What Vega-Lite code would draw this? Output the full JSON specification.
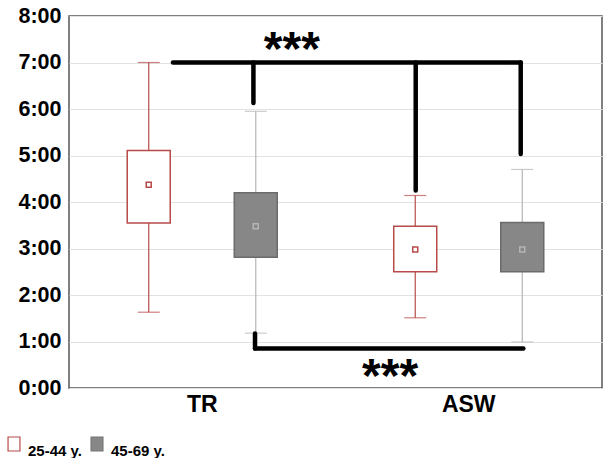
{
  "$schema": "https://vega.github.io/schema/vega-lite/v6.json",
  "width": 533,
  "height": 372,
  "autosize": {"type": "none"},
  "padding": {"left": 69, "top": 16, "right": 3, "bottom": 70},
  "background": "white",
  "config": {
    "font": "Liberation Sans",
    "view": {"stroke": "#555555", "strokeWidth": 1.5}
  },
  "datasets": {
    "boxes": [
      {"group": "TR", "age": "25-44 y.", "low": 1.63, "q1": 3.55, "mean": 4.37, "q3": 5.11, "high": 7.0},
      {"group": "TR", "age": "45-69 y.", "low": 1.18, "q1": 2.81, "mean": 3.48, "q3": 4.2, "high": 5.95},
      {"group": "ASW", "age": "25-44 y.", "low": 1.51, "q1": 2.5, "mean": 2.98, "q3": 3.48, "high": 4.14},
      {"group": "ASW", "age": "45-69 y.", "low": 0.99, "q1": 2.5, "mean": 2.98, "q3": 3.56, "high": 4.7}
    ],
    "brackets": [
      {"x": 0.39, "x2": 1.695, "y": 7, "y2": 7},
      {"x": 0.692, "x2": 0.692, "y": 7, "y2": 6.13},
      {"x": 1.301, "x2": 1.301, "y": 7, "y2": 4.25},
      {"x": 1.695, "x2": 1.695, "y": 7, "y2": 5.03},
      {"x": 0.698, "x2": 0.698, "y": 1.17, "y2": 0.847},
      {"x": 0.698, "x2": 1.705, "y": 0.847, "y2": 0.847}
    ],
    "stars": [
      {"x": 0.836, "y": 7.25, "label": "***"},
      {"x": 1.205, "y": 0.22, "label": "***"}
    ]
  },
  "layer": [
    {
      "data": {"name": "boxes"},
      "encoding": {
        "x": {
          "field": "group",
          "type": "nominal",
          "scale": {"domain": ["TR", "ASW"], "paddingInner": 0, "paddingOuter": 0},
          "axis": {
            "title": null,
            "labelAngle": 0,
            "labelFontSize": 23,
            "labelFontWeight": "bold",
            "labelColor": "#000000",
            "labelPadding": 5,
            "ticks": false,
            "domain": false,
            "grid": false
          }
        },
        "xOffset": {
          "field": "age",
          "type": "nominal",
          "scale": {"domain": ["25-44 y.", "45-69 y."], "paddingInner": 0, "paddingOuter": 0.245}
        }
      },
      "layer": [
        {
          "mark": {"type": "rule", "strokeWidth": 1.2},
          "encoding": {
            "y": {
              "field": "low",
              "type": "quantitative",
              "title": null,
              "scale": {"domain": [0, 8], "nice": false, "zero": true},
              "axis": {
                "values": [0, 1, 2, 3, 4, 5, 6, 7, 8],
                "labelExpr": "datum.value + ':00'",
                "labelFontSize": 21.5,
                "labelFontWeight": "bold",
                "labelColor": "#000000",
                "labelPadding": 8,
                "ticks": false,
                "domain": false,
                "grid": true,
                "gridColor": "#e2e2e2",
                "gridWidth": 1
              }
            },
            "y2": {"field": "high"},
            "color": {
              "field": "age",
              "type": "nominal",
              "scale": {"range": ["#b84a4a", "#b5b5b5"]},
              "legend": null
            }
          }
        },
        {
          "transform": [{"fold": ["low", "high"], "as": ["end", "val"]}],
          "mark": {"type": "tick", "size": 22, "thickness": 1.2},
          "encoding": {
            "y": {"field": "val", "type": "quantitative", "title": null},
            "color": {
              "field": "age",
              "type": "nominal",
              "scale": {"range": ["#b84a4a", "#b5b5b5"]},
              "legend": null
            }
          }
        },
        {
          "mark": {"type": "bar", "size": 43, "strokeWidth": 1.5},
          "encoding": {
            "y": {"field": "q1", "type": "quantitative", "title": null},
            "y2": {"field": "q3"},
            "fill": {
              "field": "age",
              "type": "nominal",
              "scale": {"domain": ["25-44 y.", "45-69 y."], "range": ["#ffffff", "#878787"]},
              "legend": {
                "orient": "none",
                "legendX": -63,
                "legendY": 420,
                "direction": "horizontal",
                "title": null,
                "labelFontSize": 15,
                "labelFontWeight": "bold",
                "labelColor": "#000000",
                "labelBaseline": "top",
                "labelOffset": 6,
                "columnPadding": 6,
                "padding": 0,
                "symbolType": "M-0.85,-1H0.85V1H-0.85Z",
                "symbolSize": 196,
                "symbolStrokeWidth": 1.2,
                "encode": {
                  "symbols": {
                    "update": {
                      "fill": {"signal": "datum.value === '25-44 y.' ? '#ffffff' : '#a6a6a6'"},
                      "stroke": {"signal": "datum.value === '25-44 y.' ? '#b84a4a' : '#777777'"},
                      "strokeWidth": {"value": 1.2},
                      "opacity": {"value": 1}
                    }
                  }
                }
              }
            },
            "stroke": {
              "field": "age",
              "type": "nominal",
              "scale": {"range": ["#b84a4a", "#6b6b6b"]},
              "legend": null
            }
          }
        },
        {
          "mark": {"type": "point", "shape": "square", "size": 25, "filled": false, "strokeWidth": 1.5, "opacity": 1},
          "encoding": {
            "y": {"field": "mean", "type": "quantitative", "title": null},
            "color": {
              "field": "age",
              "type": "nominal",
              "scale": {"range": ["#b84a4a", "#b5b5b5"]},
              "legend": null
            }
          }
        }
      ]
    },
    {
      "data": {"name": "brackets"},
      "mark": {"type": "rule", "strokeWidth": 4.5, "strokeCap": "round", "color": "#000000"},
      "encoding": {
        "x": {"field": "x", "type": "quantitative", "scale": {"domain": [0, 2], "nice": false, "zero": false}, "axis": null},
        "x2": {"field": "x2"},
        "y": {"field": "y", "type": "quantitative", "scale": {"domain": [0, 8], "nice": false}, "title": null},
        "y2": {"field": "y2"}
      }
    },
    {
      "data": {"name": "stars"},
      "mark": {"type": "text", "fontSize": 48, "fontWeight": "bold", "align": "center", "baseline": "middle", "color": "#000000"},
      "encoding": {
        "x": {"field": "x", "type": "quantitative", "scale": {"domain": [0, 2], "nice": false, "zero": false}, "axis": null},
        "y": {"field": "y", "type": "quantitative", "scale": {"domain": [0, 8], "nice": false}, "title": null},
        "text": {"field": "label"}
      }
    }
  ],
  "resolve": {"scale": {"x": "independent"}}
}
